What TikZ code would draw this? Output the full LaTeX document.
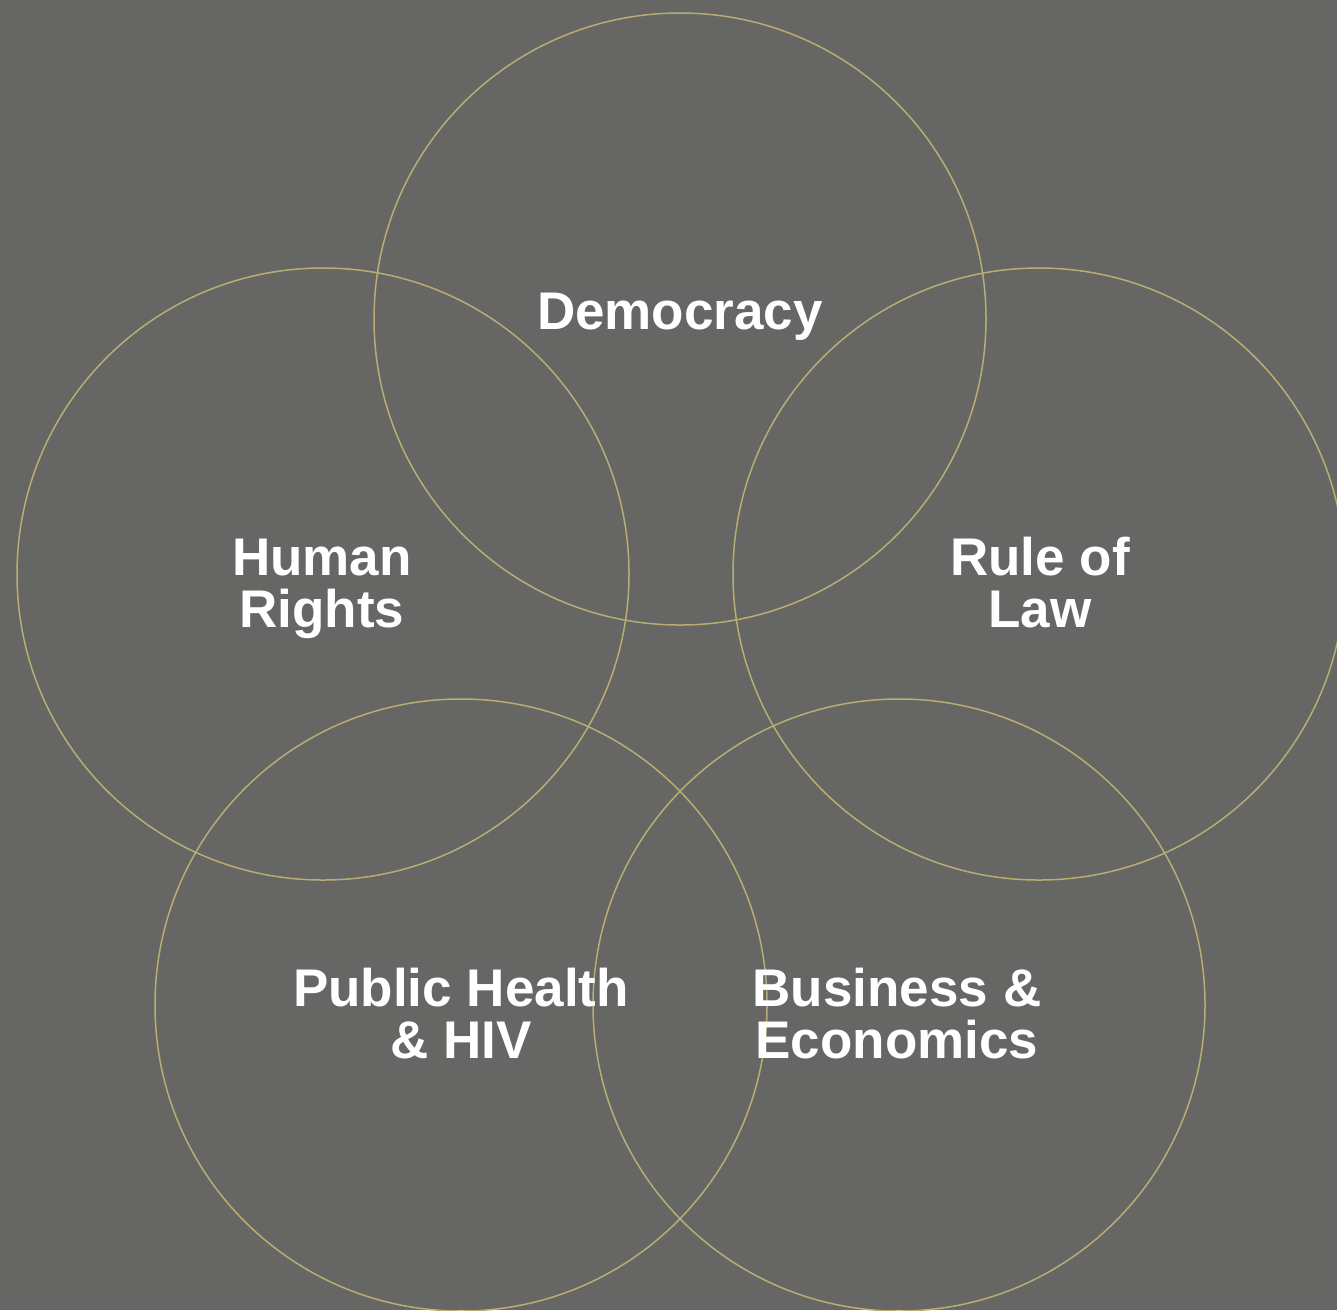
\documentclass[tikz,border=0pt]{standalone}
\usepackage{fontspec}
\setmainfont{Liberation Sans}
\definecolor{bg}{HTML}{666664}
\definecolor{ring}{HTML}{B8AD72}
\begin{document}
\begin{tikzpicture}[x=1pt,y=-1pt,
  ring/.style={draw=ring,line width=1.5pt},
  lbl/.style={text=white,font=\fontsize{53}{52}\selectfont\bfseries,align=center,inner sep=0pt,anchor=base}]
\path[fill=bg,use as bounding box] (0,0) rectangle (1337,1310);
\begin{scope}
\clip (0,0) rectangle (1337,1310);
\draw[ring] (680,319) circle[radius=306];
\draw[ring] (323,574) circle[radius=306];
\draw[ring] (1039,574) circle[radius=306];
\draw[ring] (461,1005) circle[radius=306];
\draw[ring] (899,1005) circle[radius=306];
\end{scope}
\node[lbl] (dem) at (680,329) {Democracy};
\node[lbl] (hr) at (322,627) {Human\\Rights};
\node[lbl] (rol) at (1040,627) {Rule of\\Law};
\node[lbl] (ph) at (461,1058) {Public Health\\\& HIV};
\node[lbl] (be) at (897,1058) {Business \&\\Economics};
\end{tikzpicture}
\end{document}
